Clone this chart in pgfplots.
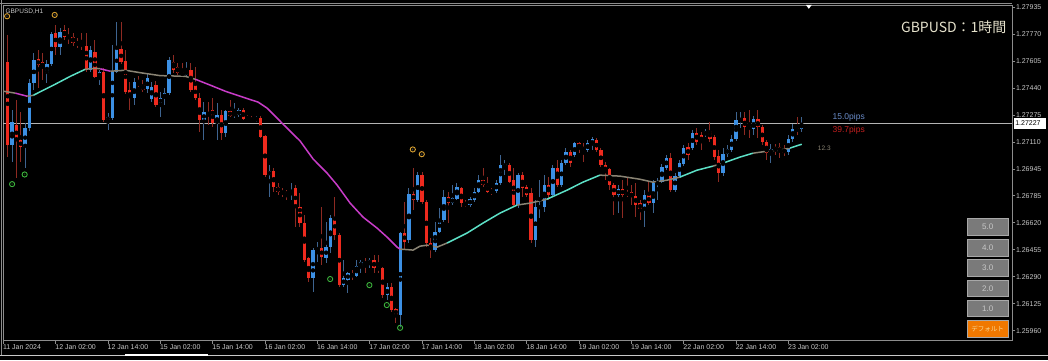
\documentclass[border=0pt]{standalone}
\usepackage{pgfplots}
\pgfplotsset{compat=1.18}
\usepackage{pgfplotstable}
\usepackage{fontspec}
\setmainfont{Liberation Sans}
\newfontfamily\cjk{Noto Sans CJK JP}
\definecolor{bodyR}{HTML}{EE2A1E}
\definecolor{bodyB}{HTML}{3C90E4}
\definecolor{wickR}{HTML}{8E2A22}
\definecolor{wickB}{HTML}{3E6490}
\definecolor{maC}{HTML}{5CE0C6}
\definecolor{maM}{HTML}{C83CC8}
\definecolor{maG}{HTML}{8A8474}
\definecolor{frame}{HTML}{8C8C8C}
\definecolor{lbl}{HTML}{C8C8C8}
\definecolor{bid}{HTML}{B4B4B4}
\definecolor{ringO}{HTML}{D8A030}
\definecolor{ringG}{HTML}{3CB43C}
\definecolor{btn}{HTML}{7A7A7A}
\definecolor{btnedge}{HTML}{A8A8A8}
\definecolor{orng}{HTML}{F07800}
\definecolor{pipB}{HTML}{6A8CC8}
\definecolor{pipR}{HTML}{C82020}
\definecolor{ttl}{HTML}{E6E2CC}

\pgfplotstableread{
i o h l c
1 1.27094 1.27308 1.26990 1.27235
4 1.27082 1.27228 1.26954 1.27198
5 1.27198 1.27503 1.27180 1.27473
6 1.27473 1.27656 1.27430 1.27613
9 1.27534 1.27613 1.27473 1.27589
10 1.27589 1.27790 1.27577 1.27778
12 1.27693 1.27809 1.27644 1.27790
19 1.27552 1.27699 1.27540 1.27674
21 1.27509 1.27552 1.27460 1.27540
23 1.27247 1.27289 1.27186 1.27265
24 1.27259 1.27705 1.27247 1.27540
25 1.27540 1.27845 1.27534 1.27680
29 1.27381 1.27503 1.27338 1.27479
32 1.27436 1.27528 1.27412 1.27503
33 1.27375 1.27479 1.27357 1.27448
35 1.27351 1.27418 1.27265 1.27381
36 1.27381 1.27442 1.27338 1.27412
37 1.27412 1.27631 1.27399 1.27613
41 1.27522 1.27601 1.27509 1.27552
45 1.27247 1.27357 1.27125 1.27296
48 1.27228 1.27351 1.27125 1.27277
50 1.27167 1.27308 1.27143 1.27302
52 1.27277 1.27351 1.27259 1.27289
53 1.27277 1.27320 1.27265 1.27308
57 1.27247 1.27271 1.27235 1.27265
60 1.26911 1.26972 1.26777 1.26935
65 1.26795 1.26862 1.26758 1.26807
70 1.26282 1.26465 1.26196 1.26453
71 1.26453 1.26502 1.26380 1.26465
73 1.26404 1.26624 1.26373 1.26471
74 1.26471 1.26667 1.26434 1.26648
77 1.26239 1.26392 1.26227 1.26282
78 1.26270 1.26318 1.26190 1.26312
80 1.26294 1.26392 1.26288 1.26355
81 1.26355 1.26392 1.26312 1.26380
83 1.26367 1.26404 1.26343 1.26392
87 1.26178 1.26251 1.26147 1.26227
90 1.26056 1.26563 1.25983 1.26557
92 1.26514 1.26831 1.26496 1.26795
94 1.26758 1.26929 1.26746 1.26911
98 1.26453 1.26624 1.26441 1.26563
99 1.26563 1.26709 1.26557 1.26642
100 1.26636 1.26819 1.26624 1.26777
102 1.26740 1.26850 1.26728 1.26770
103 1.26764 1.26862 1.26758 1.26838
106 1.26728 1.26777 1.26715 1.26764
107 1.26758 1.26831 1.26746 1.26807
108 1.26807 1.26911 1.26801 1.26880
112 1.26813 1.26880 1.26801 1.26862
113 1.26862 1.27033 1.26850 1.26972
114 1.26966 1.27002 1.26911 1.26978
117 1.26728 1.26923 1.26709 1.26911
121 1.26514 1.26758 1.26471 1.26715
122 1.26709 1.26880 1.26648 1.26722
123 1.26715 1.26911 1.26685 1.26850
125 1.26789 1.26972 1.26777 1.26954
127 1.26850 1.27002 1.26838 1.26984
128 1.26984 1.27076 1.26972 1.27051
130 1.27033 1.27112 1.27021 1.27106
133 1.27064 1.27125 1.27051 1.27106
134 1.27094 1.27143 1.27064 1.27131
140 1.26789 1.26850 1.26679 1.26825
146 1.26709 1.26819 1.26593 1.26789
148 1.26740 1.26880 1.26679 1.26862
149 1.26856 1.26893 1.26758 1.26868
150 1.26868 1.26978 1.26862 1.26960
151 1.26954 1.27033 1.26941 1.27015
153 1.26819 1.26923 1.26807 1.26905
154 1.26905 1.27002 1.26893 1.26984
155 1.26978 1.27094 1.26966 1.27076
157 1.27076 1.27186 1.27064 1.27167
160 1.27155 1.27192 1.27143 1.27180
164 1.26923 1.27076 1.26905 1.27039
165 1.27039 1.27094 1.27021 1.27070
166 1.27064 1.27155 1.27051 1.27131
167 1.27131 1.27296 1.27119 1.27247
168 1.27241 1.27296 1.27198 1.27259
171 1.27192 1.27271 1.27155 1.27253
175 1.27045 1.27100 1.26984 1.27070
179 1.27051 1.27155 1.27033 1.27131
180 1.27131 1.27222 1.27112 1.27192
182 1.27192 1.27265 1.27173 1.27228
}\up

\pgfplotstableread{
i o h l c
0 1.27601 1.27766 1.27021 1.27094
2 1.27216 1.27369 1.26893 1.27125
3 1.27125 1.27296 1.26990 1.27082
7 1.27619 1.27674 1.27442 1.27583
8 1.27601 1.27656 1.27491 1.27570
11 1.27784 1.27833 1.27644 1.27693
13 1.27796 1.27827 1.27735 1.27754
14 1.27766 1.27809 1.27711 1.27741
15 1.27754 1.27784 1.27699 1.27717
16 1.27723 1.27748 1.27686 1.27711
17 1.27717 1.27778 1.27674 1.27699
18 1.27699 1.27778 1.27540 1.27552
20 1.27662 1.27735 1.27503 1.27509
22 1.27540 1.27564 1.27235 1.27247
26 1.27680 1.27845 1.27589 1.27601
27 1.27607 1.27674 1.27406 1.27418
28 1.27430 1.27479 1.27308 1.27381
30 1.27479 1.27515 1.27448 1.27460
31 1.27460 1.27491 1.27418 1.27430
34 1.27460 1.27485 1.27326 1.27338
38 1.27601 1.27644 1.27534 1.27552
39 1.27570 1.27595 1.27522 1.27534
40 1.27540 1.27595 1.27509 1.27522
42 1.27552 1.27595 1.27418 1.27430
43 1.27460 1.27570 1.27369 1.27381
44 1.27381 1.27412 1.27173 1.27247
46 1.27289 1.27357 1.27216 1.27271
47 1.27308 1.27381 1.27204 1.27228
49 1.27277 1.27308 1.27125 1.27167
51 1.27302 1.27369 1.27265 1.27271
54 1.27308 1.27320 1.27247 1.27253
55 1.27265 1.27277 1.27247 1.27253
56 1.27259 1.27271 1.27235 1.27241
58 1.27259 1.27271 1.27137 1.27143
59 1.27149 1.27155 1.26899 1.26911
61 1.26935 1.26954 1.26807 1.26838
62 1.26838 1.26862 1.26789 1.26807
63 1.26813 1.26831 1.26777 1.26795
64 1.26807 1.26819 1.26758 1.26795
66 1.26831 1.26850 1.26593 1.26715
67 1.26715 1.26801 1.26593 1.26618
68 1.26618 1.26667 1.26380 1.26392
69 1.26404 1.26410 1.26257 1.26282
72 1.26465 1.26715 1.26361 1.26410
75 1.26654 1.26777 1.26514 1.26544
76 1.26544 1.26557 1.26227 1.26239
79 1.26312 1.26331 1.26270 1.26288
82 1.26380 1.26404 1.26312 1.26367
84 1.26392 1.26422 1.26312 1.26343
85 1.26349 1.26422 1.26312 1.26331
86 1.26343 1.26349 1.26160 1.26178
88 1.26227 1.26251 1.26074 1.26086
89 1.26093 1.26099 1.26007 1.26056
91 1.26557 1.26746 1.26453 1.26502
93 1.26795 1.26954 1.26697 1.26758
95 1.26911 1.26929 1.26734 1.26746
96 1.26746 1.26758 1.26471 1.26496
97 1.26496 1.26526 1.26404 1.26453
101 1.26777 1.26807 1.26618 1.26740
104 1.26831 1.26838 1.26715 1.26740
105 1.26740 1.26758 1.26715 1.26728
109 1.26880 1.26954 1.26838 1.26850
110 1.26850 1.26899 1.26801 1.26807
111 1.26819 1.26831 1.26789 1.26801
115 1.26972 1.26984 1.26862 1.26868
116 1.26880 1.26954 1.26715 1.26728
118 1.26911 1.26929 1.26777 1.26831
119 1.26838 1.26850 1.26777 1.26789
120 1.26801 1.26831 1.26496 1.26514
124 1.26850 1.26899 1.26758 1.26789
126 1.26954 1.27002 1.26838 1.26850
129 1.27051 1.27064 1.26960 1.26984
131 1.27106 1.27112 1.27045 1.27076
132 1.27082 1.27106 1.26990 1.27064
135 1.27125 1.27137 1.27051 1.27064
136 1.27064 1.27076 1.26960 1.26972
137 1.26972 1.26990 1.26880 1.26929
138 1.26948 1.26954 1.26819 1.26850
139 1.26850 1.26862 1.26667 1.26789
141 1.26825 1.26880 1.26648 1.26789
142 1.26801 1.26893 1.26777 1.26795
143 1.26807 1.26850 1.26728 1.26777
144 1.26783 1.26862 1.26654 1.26728
145 1.26740 1.26758 1.26636 1.26703
147 1.26789 1.26868 1.26728 1.26740
152 1.27015 1.27045 1.26807 1.26819
156 1.27082 1.27106 1.27002 1.27033
158 1.27167 1.27198 1.27094 1.27112
159 1.27155 1.27173 1.27064 1.27112
161 1.27180 1.27235 1.27112 1.27131
162 1.27143 1.27155 1.27002 1.27021
163 1.27027 1.27064 1.26868 1.26923
169 1.27259 1.27296 1.27155 1.27204
170 1.27210 1.27308 1.27137 1.27192
172 1.27253 1.27308 1.27137 1.27204
173 1.27204 1.27216 1.27094 1.27112
174 1.27112 1.27125 1.27002 1.27045
176 1.27082 1.27100 1.27033 1.27064
177 1.27082 1.27106 1.27015 1.27057
178 1.27070 1.27094 1.27027 1.27045
181 1.27198 1.27265 1.27155 1.27180
}\down

\pgfplotsset{
  cbar/.style n args={2}{only marks, mark=none, forget plot,
    error bars/.cd, y dir=both, y explicit, error mark=none,
    error bar style={line width=#1, draw=#2}},
}

\begin{document}
\begin{tikzpicture}[x=1pt,y=1pt]
\fill[black] (0,0) rectangle (1048,360);
\begin{axis}[
  at={(2.85pt,19.3pt)}, anchor=south west, scale only axis,
  width=1009.85pt, height=335.7pt,
  xmin=-1.02, xmax=230.33, ymin=1.25899, ymax=1.27949,
  axis line style={draw=frame, line width=0.8pt},
  tick style={draw=frame, line width=0.6pt},
  tick align=outside, major tick length=3pt,
  xtick pos=bottom, ytick pos=right, yticklabel pos=right,
  scaled ticks=false,
  xtick={-1,11,23,35,47,59,71,83,95,107,119,131,143,155,167,179},
  xticklabels={11 Jan 2024,12 Jan 02:00,12 Jan 14:00,15 Jan 02:00,15 Jan 14:00,16 Jan 02:00,16 Jan 14:00,17 Jan 02:00,17 Jan 14:00,18 Jan 02:00,18 Jan 14:00,19 Jan 02:00,19 Jan 14:00,22 Jan 02:00,22 Jan 14:00,23 Jan 02:00},
  ytick={1.25960,1.26125,1.26290,1.26455,1.26620,1.26785,1.26945,1.27110,1.27275,1.27440,1.27605,1.27770,1.27935},
  yticklabels={1.25960,1.26125,1.26290,1.26455,1.26620,1.26785,1.26945,1.27110,1.27275,1.27440,1.27605,1.27770,1.27935},
  xticklabel style={anchor=north west, inner sep=0.5pt, xshift=-1pt, font=\fontsize{7}{8}\selectfont, text=lbl},
  yticklabel style={anchor=west, inner sep=0.5pt, font=\fontsize{7}{8}\selectfont, text=lbl},
]
% bid line
\addplot[bid, line width=0.7pt, forget plot] coordinates {(-1.02,1.27227) (230.33,1.27227)};
% wicks
\addplot[cbar={1pt}{wickR}] table[x=i, y expr={(\thisrow{h}+\thisrow{l})/2}, y error expr={(\thisrow{h}-\thisrow{l})/2}] {\down};
\addplot[cbar={1pt}{wickB}] table[x=i, y expr={(\thisrow{h}+\thisrow{l})/2}, y error expr={(\thisrow{h}-\thisrow{l})/2}] {\up};
% bodies
\addplot[cbar={3.3pt}{bodyR}] table[x=i, y expr={(\thisrow{o}+\thisrow{c})/2}, y error expr={max(abs(\thisrow{o}-\thisrow{c})/2,0.000015)}] {\down};
\addplot[cbar={3.3pt}{bodyB}] table[x=i, y expr={(\thisrow{o}+\thisrow{c})/2}, y error expr={max(abs(\thisrow{o}-\thisrow{c})/2,0.000015)}] {\up};
% moving average
\addplot[maG, line width=1.5pt] coordinates {(-0.99,1.27424) (1.76,1.27412)};
\addplot[maM, line width=1.5pt] coordinates {(1.76,1.27412) (4.51,1.27393)};
\addplot[maG, line width=1.5pt] coordinates {(4.51,1.27393) (5.89,1.27399)};
\addplot[maC, line width=1.5pt] coordinates {(5.89,1.27399) (7.49,1.27421) (10.93,1.27467) (14.36,1.27515) (17.80,1.27558)};
\addplot[maG, line width=1.5pt] coordinates {(17.80,1.27558) (20.09,1.27564) (21.24,1.27561)};
\addplot[maM, line width=1.5pt] coordinates {(21.24,1.27561) (23.53,1.27546)};
\addplot[maG, line width=1.5pt] coordinates {(23.53,1.27546) (26.96,1.27552) (30.40,1.27537) (34.98,1.27519) (40.71,1.27515) (43.00,1.27497)};
\addplot[maM, line width=1.5pt] coordinates {(43.00,1.27497) (46.44,1.27461) (49.87,1.27424) (53.31,1.27393) (57.43,1.27357) (59.50,1.27320) (63.16,1.27222) (67.06,1.27119) (70.04,1.27009) (73.24,1.26923) (75.53,1.26850) (78.51,1.26740) (81.49,1.26654) (84.70,1.26587) (86.99,1.26532) (89.28,1.26471) (89.96,1.26459)};
\addplot[maG, line width=1.5pt] coordinates {(89.96,1.26459) (92.94,1.26453) (94.55,1.26477) (96.15,1.26483) (98.44,1.26471) (100.73,1.26496)};
\addplot[maC, line width=1.5pt] coordinates {(100.73,1.26496) (105.31,1.26557) (108.98,1.26618) (112.87,1.26679) (116.77,1.26728)};
\addplot[maG, line width=1.5pt] coordinates {(116.77,1.26728) (119.75,1.26740) (123.64,1.26764)};
\addplot[maC, line width=1.5pt] coordinates {(123.64,1.26764) (128.22,1.26819) (131.89,1.26868) (135.78,1.26911)};
\addplot[maG, line width=1.5pt] coordinates {(135.78,1.26911) (140.37,1.26905) (144.95,1.26886) (147.93,1.26868) (151.13,1.26880) (154.11,1.26899)};
\addplot[maC, line width=1.5pt] coordinates {(154.11,1.26899) (158.01,1.26941) (161.67,1.26966)};
\addplot[maG, line width=1.5pt] coordinates {(161.67,1.26966) (163.96,1.26984)};
\addplot[maC, line width=1.5pt] coordinates {(163.96,1.26984) (167.86,1.27021) (170.84,1.27045)};
\addplot[maG, line width=1.5pt] coordinates {(170.84,1.27045) (174.04,1.27057) (177.02,1.27064) (179.31,1.27076)};
\addplot[maC, line width=1.5pt] coordinates {(179.31,1.27076) (182.06,1.27100)};
% fractal markers
\addplot[only marks, mark=o, mark size=2.6pt, mark options={draw=ringO, line width=0.9pt}] coordinates {(-0.14,1.27882) (10.77,1.27890) (92.88,1.27068) (94.94,1.27039)};
\addplot[only marks, mark=*, mark size=0.9pt, mark options={draw=none, fill=lbl}] coordinates {(-0.14,1.27882) (10.77,1.27890) (92.88,1.27068) (94.94,1.27039)};
\addplot[only marks, mark=o, mark size=2.6pt, mark options={draw=ringG, line width=0.9pt}] coordinates {(1.01,1.26856) (3.89,1.26915) (73.93,1.26276) (82.93,1.26239) (86.92,1.26117) (89.97,1.25978)};
\addplot[only marks, mark=*, mark size=0.9pt, mark options={draw=none, fill=ringG}] coordinates {(1.01,1.26856) (3.89,1.26915) (73.93,1.26276) (82.93,1.26239) (86.92,1.26117) (89.97,1.25978)};
\end{axis}
% window frame details
\draw[frame, line width=0.6pt] (0.8,5) -- (0.8,360);
\draw[frame, line width=0.6pt] (0,357) -- (1012.7,357);
\draw[lbl, line width=0.8pt] (0,5) -- (1048,5);
\draw[white, line width=1.2pt] (125,5) -- (208,5);
\fill[white] (806,355.5) -- (812,355.5) -- (809,351.5) -- cycle;
% texts
\node[anchor=west, inner sep=0pt, text=lbl, font=\fontsize{6.5}{7}\selectfont] at (5,349) {GBPUSD,H1};
\node[anchor=east, inner sep=0pt, text=ttl, font=\cjk\fontsize{14}{16}\selectfont] at (1007,333) {GBPUSD：1時間};
\node[anchor=west, inner sep=0pt, text=pipB, font=\fontsize{8.5}{9}\selectfont] at (832.7,243.3) {15.0pips};
\node[anchor=west, inner sep=0pt, text=pipR, font=\fontsize{8.5}{9}\selectfont] at (832.7,230) {39.7pips};
\node[anchor=west, inner sep=0pt, text=maG, font=\fontsize{6.5}{7}\selectfont] at (818,212) {12.3};
% current price tag
\fill[white] (1014,231.5) rectangle (1046.5,242);
\node[anchor=west, inner sep=0pt, text=black, font=\fontsize{7}{8}\selectfont] at (1015.5,236.8) {1.27227};
% buttons
\foreach \t/\yb/\yt in {5.0/125/142.3, 4.0/104.3/121, 3.0/84/100.7, 2.0/63.3/80, 1.0/43.3/60}{
  \fill[btn] (967.7,\yb) rectangle (1008.3,\yt);
  \draw[btnedge, line width=0.6pt] (967.7,\yb) rectangle (1008.3,\yt);
  \node[text=lbl, font=\fontsize{8}{9}\selectfont] at (988,{(\yb+\yt)/2}) {\t};
}
\fill[orng] (967.7,22.7) rectangle (1008.3,39.3);
\draw[btnedge, line width=0.6pt] (967.7,22.7) rectangle (1008.3,39.3);
\node[text={rgb,255:red,248;green,216;blue,150}, font=\cjk\fontsize{6.5}{7}\selectfont] at (988,31) {デフォルト};
\end{tikzpicture}
\end{document}
